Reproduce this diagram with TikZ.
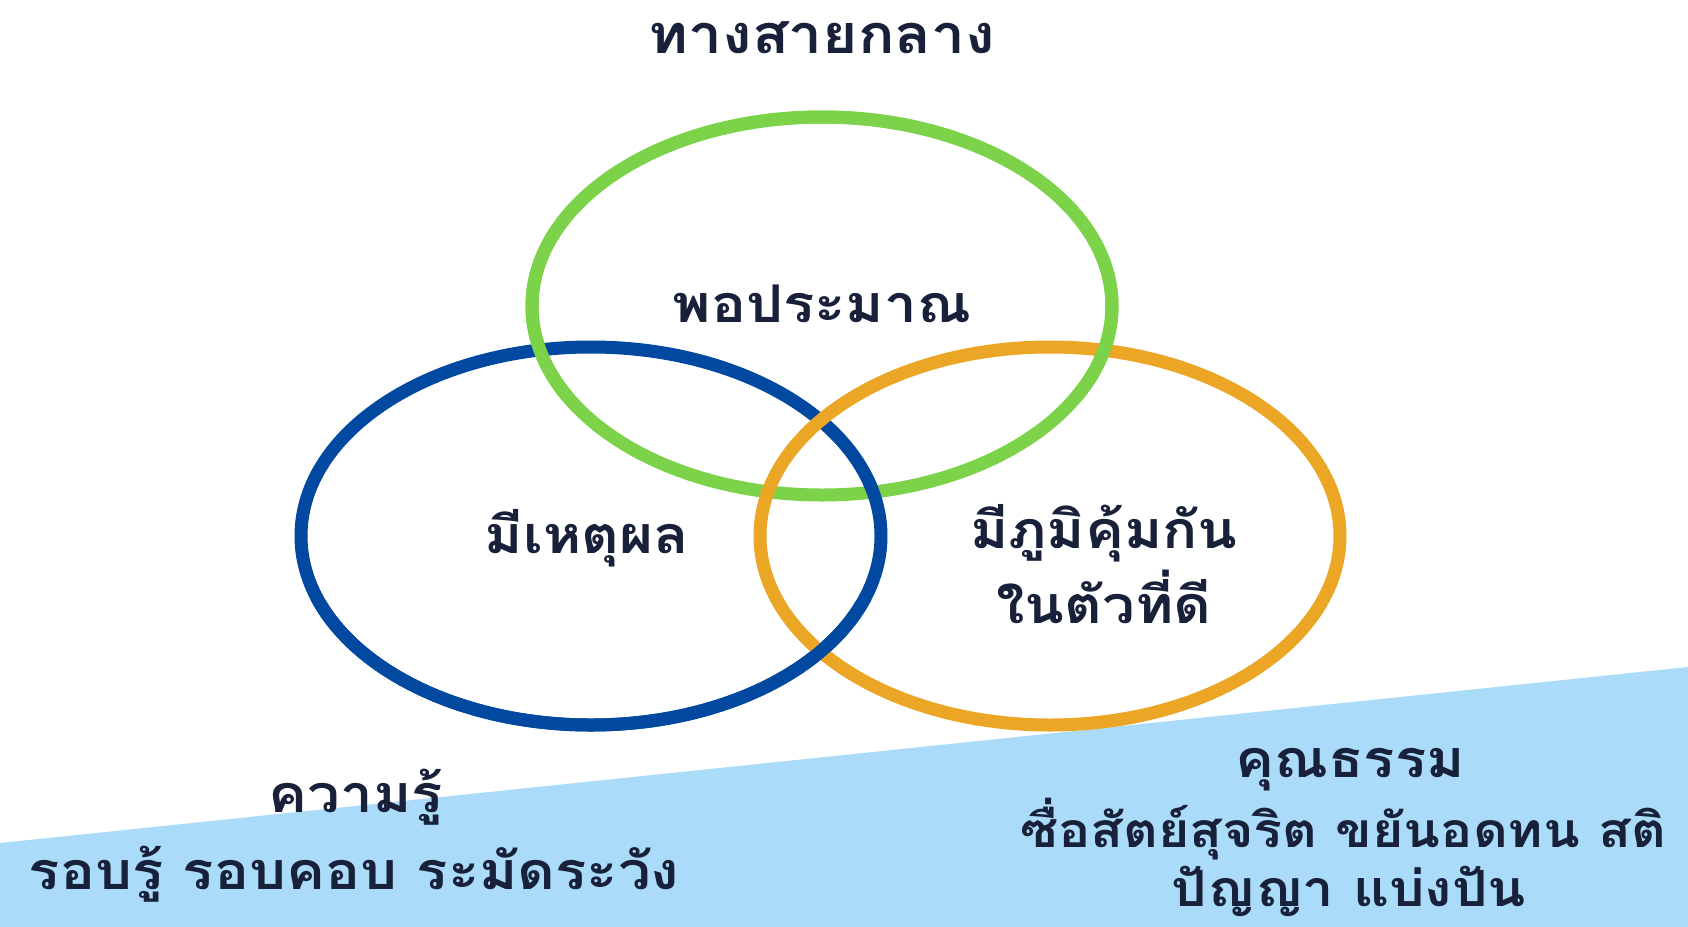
\documentclass[tikz,border=0pt]{standalone}
\usepackage{fontspec}
\newfontfamily\thaifont[Script=Thai,FakeStretch=1.12]{Loma}
\usetikzlibrary{shapes.geometric}
\definecolor{ringgreen}{RGB}{124,211,74}
\definecolor{ringblue}{RGB}{0,72,160}
\definecolor{ringorange}{RGB}{234,166,36}
\definecolor{bandblue}{RGB}{170,220,249}
\definecolor{inknavy}{RGB}{24,32,58}

\begin{document}
\begin{tikzpicture}[x=0.5pt,y=-0.5pt,
    ring/.style={ellipse,draw,line width=6.5pt,inner sep=0pt,
      minimum width=290pt,minimum height=189pt},
    word/.style={text=inknavy,inner sep=0pt,anchor=base,
      font=\thaifont\bfseries\fontsize{26}{30}\selectfont},
    title/.style={word,font=\thaifont\bfseries\fontsize{27}{32}\selectfont}]
  \useasboundingbox[fill=white] (0,0) rectangle (1688,927);
  \fill[bandblue] (0,843) -- (1688,667) -- (1688,927) -- (0,927) -- cycle;
  % three rings, woven
  \node[ring,draw=ringgreen] (mid) at (822,306) {};
  \node[ring,draw=ringblue] (reason) at (591,536) {};
  \node[ring,draw=ringorange] (guard) at (1050,536) {};
  \begin{scope}
    \clip (0,0) rectangle (1688,400);
    \node[ring,draw=ringgreen] (midtop) at (mid) {};
  \end{scope}
  \begin{scope}
    \clip (0,600) rectangle (1688,927);
    \node[ring,draw=ringblue] (reasonlow) at (reason) {};
  \end{scope}
  % labels
  \node[title] (path) at (822,53) {ทางสายกลาง};
  \node[word] (enough) at (822,322) {พอประมาณ};
  \node[word] (cause) at (587,553) {มีเหตุผล};
  \node[word] (immune) at (1104,548) {มีภูมิคุ้มกัน};
  \node[word] (immune2) at (1104,623) {ในตัวที่ดี};
  \node[word] (know) at (356,812) {ความรู้};
  \node[word] (know2) at (354,889) {รอบรู้ รอบคอบ ระมัดระวัง};
  \node[word] (moral) at (1350,777) {คุณธรรม};
  \node[word,font=\thaifont\bfseries\fontsize{24}{28}\selectfont] (moral2)
    at (1343,847) {ซื่อสัตย์สุจริต ขยันอดทน สติ};
  \node[word,font=\thaifont\bfseries\fontsize{25}{28}\selectfont] (moral3)
    at (1349,906) {ปัญญา แบ่งปัน};
\end{tikzpicture}
\end{document}
